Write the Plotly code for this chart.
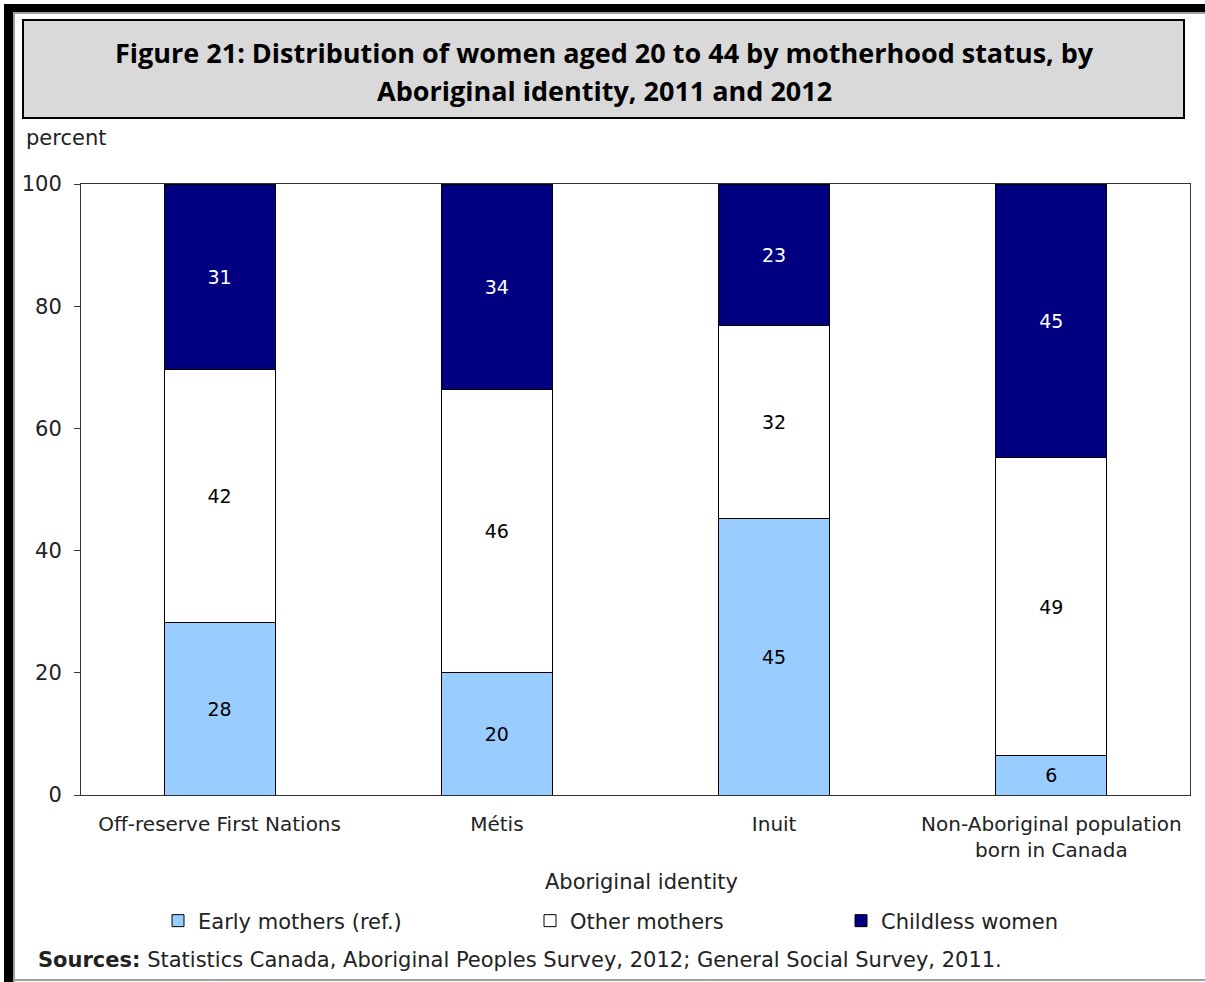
import plotly.graph_objects as go

categories = ["Off-reserve First Nations", "Métis", "Inuit",
              "Non-Aboriginal population<br>born in Canada"]
early_mothers = [28.2, 20.1, 45.2, 6.4]
other_mothers = [41.5, 46.3, 31.7, 48.9]
childless_women = [30.3, 33.6, 23.1, 44.7]
early_labels = ["28", "20", "45", "6"]
other_labels = ["42", "46", "32", "49"]
childless_labels = ["31", "34", "23", "45"]
y_ticks = [0, 20, 40, 60, 80, 100]

W, H = 1205, 982
L, R, T, B = 81, 1190, 184, 795  # plot area in pixels


def px(x):
    return (x - L) / (R - L)


def py(y):
    return (B - y) / (B - T)


FONT = "DejaVu Sans"
FS = 21
TXT = "#222222"

fig = go.Figure()
series = [
    ("Early mothers (ref.)", early_mothers, early_labels, "#99CCFF", "black", "legend"),
    ("Other mothers", other_mothers, other_labels, "#FFFFFF", "black", "legend2"),
    ("Childless women", childless_women, childless_labels, "#000080", "white", "legend3"),
]
for name, vals, labels, color, tcolor, lg in series:
    fig.add_trace(go.Bar(
        x=categories, y=vals, name=name, text=labels,
        textposition="inside", insidetextanchor="middle", textangle=0,
        textfont=dict(family=FONT, size=19, color=tcolor),
        marker=dict(color=color, line=dict(color="black", width=1)),
        legend=lg, hoverinfo="skip",
    ))

legend_common = dict(orientation="h", yanchor="middle", y=py(921), xanchor="left",
                     font=dict(family=FONT, size=FS, color=TXT), bgcolor="rgba(0,0,0,0)",
                     itemwidth=30, traceorder="normal")

shapes = [
    # outer frame
    dict(type="rect", xref="paper", yref="paper", x0=px(4), x1=px(13), y0=py(4), y1=py(982),
         fillcolor="black", line=dict(width=0), layer="above"),
    dict(type="rect", xref="paper", yref="paper", x0=px(4), x1=px(1205), y0=py(4), y1=py(12),
         fillcolor="black", line=dict(width=0), layer="above"),
    dict(type="rect", xref="paper", yref="paper", x0=px(13), x1=px(15), y0=py(12), y1=py(982),
         fillcolor="#a0a0a0", line=dict(width=0), layer="above"),
    dict(type="rect", xref="paper", yref="paper", x0=px(13), x1=px(1205), y0=py(12), y1=py(14),
         fillcolor="#a0a0a0", line=dict(width=0), layer="above"),
    dict(type="rect", xref="paper", yref="paper", x0=px(13), x1=px(1205), y0=py(979), y1=py(981),
         fillcolor="#a0a0a0", line=dict(width=0), layer="above"),
    # title box
    dict(type="rect", xref="paper", yref="paper", x0=px(23), x1=px(1184), y0=py(20), y1=py(118),
         fillcolor="#D9D9D9", line=dict(color="black", width=2), layer="below"),
]

TITLE_FONT = dict(family="Open Sans", size=27, color="black", weight="bold")
annotations = [
    dict(text="Figure 21: Distribution of women aged 20 to 44 by motherhood status, by",
         x=px(604), y=py(52), xref="paper", yref="paper", showarrow=False,
         xanchor="center", yanchor="middle", font=TITLE_FONT),
    dict(text="Aboriginal identity, 2011 and 2012",
         x=px(604), y=py(91), xref="paper", yref="paper", showarrow=False,
         xanchor="center", yanchor="middle", font=TITLE_FONT),
    dict(text="percent", x=px(24), y=py(138), xref="paper", yref="paper", showarrow=False,
         xanchor="left", yanchor="middle", font=dict(family=FONT, size=FS, color=TXT)),
    dict(text="Aboriginal identity", x=px(641), y=py(882), xref="paper", yref="paper",
         showarrow=False, xanchor="center", yanchor="middle",
         font=dict(family=FONT, size=FS, color=TXT)),
    dict(text="<b>Sources:</b> Statistics Canada, Aboriginal Peoples Survey, 2012; General Social Survey, 2011.",
         x=px(36), y=py(960), xref="paper", yref="paper", showarrow=False,
         xanchor="left", yanchor="middle", font=dict(family=FONT, size=FS, color=TXT)),
]

fig.update_layout(
    width=W, height=H,
    margin=dict(l=L, r=W - R, t=T, b=H - B, pad=0),
    barmode="stack", bargap=0.6,
    plot_bgcolor="white", paper_bgcolor="white",
    showlegend=True,
    legend=dict(legend_common, x=px(158)),
    legend2=dict(legend_common, x=px(530)),
    legend3=dict(legend_common, x=px(841)),
    shapes=shapes, annotations=annotations,
    xaxis=dict(showline=True, linecolor="#333333", linewidth=1, mirror=True,
               ticks="", showgrid=False, tickfont=dict(family=FONT, size=20, color=TXT),
               ticklabelstandoff=11),
    yaxis=dict(range=[0, 100], tickvals=y_ticks, showline=True, linecolor="#333333",
               linewidth=1, mirror=True, ticks="outside", ticklen=6, tickcolor="#333333",
               showgrid=False, zeroline=False, tickfont=dict(family=FONT, size=FS, color=TXT),
               ticklabelstandoff=8),
)

fig.write_html("out.html")
